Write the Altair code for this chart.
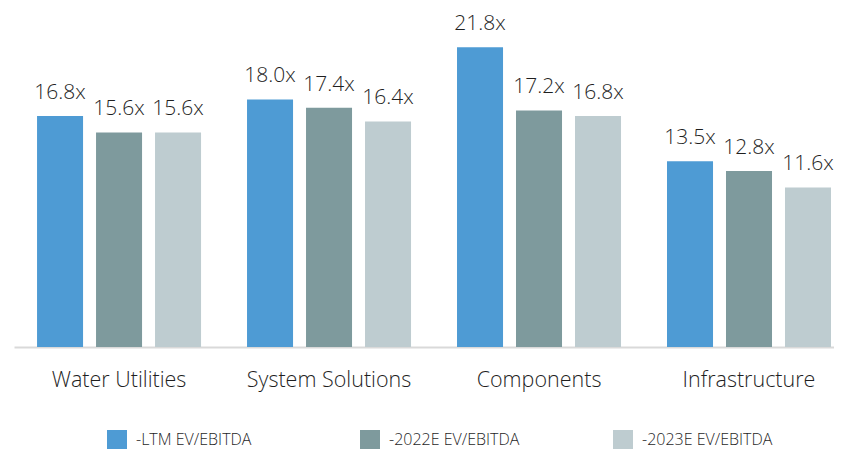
import altair as alt
import pandas as pd

categories = ["Water Utilities", "System Solutions", "Components", "Infrastructure"]
series = ["-LTM EV/EBITDA", "-2022E EV/EBITDA", "-2023E EV/EBITDA"]
ltm = [16.8, 18.0, 21.8, 13.5]
e2022 = [15.6, 17.4, 17.2, 12.8]
e2023 = [15.6, 16.4, 16.8, 11.6]
colors = ["#4E9BD4", "#7E9A9D", "#BECCD0"]

rows = []
for s, vals in zip(series, [ltm, e2022, e2023]):
    for c, v in zip(categories, vals):
        rows.append({"category": c, "series": s, "value": v, "label": f"{v:.1f}x"})
df = pd.DataFrame(rows)

FONT = "Open Sans"
TXT = "#1F1F1F"
W = 300

x = alt.X(
    "category:N",
    sort=categories,
    scale=alt.Scale(paddingInner=0.219, paddingOuter=0.062, align=0.885),
    axis=alt.Axis(
        title=None, labelAngle=0, ticks=False, tickSize=0, labelPadding=22,
        labelFontSize=21.5, labelFont=FONT, labelColor=TXT, labelFontWeight=W,
        domainColor="#D9D9D9", domainWidth=2, grid=False, labelLimit=0,
    ),
)
xo = alt.XOffset("series:N", sort=series, scale=alt.Scale(paddingInner=0.22, paddingOuter=0))
y = alt.Y("value:Q", scale=alt.Scale(domain=[0, 24.5], nice=False, zero=True), axis=None)

bars = alt.Chart(df).mark_bar().encode(
    x=x,
    xOffset=xo,
    y=y,
    color=alt.Color(
        "series:N",
        sort=series,
        scale=alt.Scale(domain=series, range=colors),
        legend=alt.Legend(
            title=None, orient="none", legendX=93, legendY=420,
            direction="horizontal", symbolType="square", symbolSize=400,
            symbolStrokeWidth=0, symbolOpacity=1, labelFontSize=16, labelFont=FONT,
            labelFontWeight=W, labelColor=TXT, labelOffset=9, columnPadding=93,
            gridAlign="all", padding=0, labelLimit=0,
        ),
    ),
)

labels = alt.Chart(df).mark_text(
    dy=-17, baseline="alphabetic", align="center", fontSize=21, font=FONT,
    fontWeight=W, color=TXT
).encode(x=x, xOffset=xo, y=y, text="label:N")

chart = (
    alt.layer(bars, labels)
    .properties(width=820, height=337, padding={"left": 6, "top": 2, "right": 0, "bottom": 0})
    .configure_view(stroke=None)
)

chart.save("out.html", embed_options={"renderer": "svg", "actions": False})
